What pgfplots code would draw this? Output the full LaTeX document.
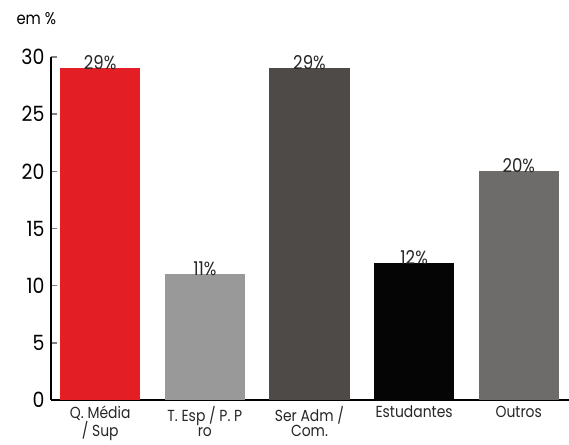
\documentclass[border=0pt]{standalone}
\usepackage{pgfplots}
\pgfplotsset{compat=1.18}
\usepackage{fontspec}
\setmainfont{Poppins}
\newfontfamily\condfont[FakeStretch=0.87]{Poppins}
\newfontfamily\tickfont[FakeStretch=0.9]{Poppins}
\definecolor{cRed}{RGB}{227,30,36}
\definecolor{cLight}{RGB}{153,153,153}
\definecolor{cDark}{RGB}{77,74,72}
\definecolor{cBlack}{RGB}{5,5,5}
\definecolor{cMid}{RGB}{110,108,107}
\begin{document}
\begin{tikzpicture}
\useasboundingbox (-51pt,-44pt) rectangle (518pt,400pt);
\begin{axis}[
  at={(0,0)}, anchor=south west,
  scale only axis, width=518pt, height=343pt,
  xmin=-0.47, xmax=4.48, ymin=0, ymax=30,
  axis lines=left, axis line style={-, line width=1.4pt},
  ytick={0,5,...,30},
  xtick={0,1,2,3,4},
  xticklabels={{Q. Média\\/ Sup},{T. Esp / P. P\\ro},{Ser Adm /\\Com.},{Estudantes},{Outros}},
  extra x ticks={0.5,1.5,2.5,3.5},
  extra x tick labels={},
  extra x tick style={major tick length=5pt, tick style={line width=1.4pt}},
  x tick style={draw=none},
  y tick style={line width=1.4pt},
  major tick length=6pt,
  tick align=inside,
  /pgf/number format/assume math mode=true,
  yticklabel style={font=\tickfont\fontsize{21}{21}\selectfont, xshift=-3pt},
  xticklabel style={font=\condfont\fontsize{16}{15.5}\selectfont, align=center, anchor=north, yshift=-2.5pt, text=black!85},
  every axis plot/.append style={ybar, bar width=0.765, draw=none},
  nodes near coords={\pgfmathprintnumber{\pgfplotspointmeta}\%},
  nodes near coords style={font=\condfont\fontsize{19}{19}\selectfont, anchor=base, yshift=-1.5pt, text=black!85},
  clip=false,
]
\addplot[fill=cRed] coordinates {(0,29)};
\addplot[fill=cLight] coordinates {(1,11)};
\addplot[fill=cDark] coordinates {(2,29)};
\addplot[fill=cBlack] coordinates {(3,12)};
\addplot[fill=cMid] coordinates {(4,20)};
\node[anchor=base west, font=\condfont\fontsize{17}{17}\selectfont] at (rel axis cs:0,1) [xshift=-38pt, yshift=32pt] {em \%};
\end{axis}
\end{tikzpicture}
\end{document}
